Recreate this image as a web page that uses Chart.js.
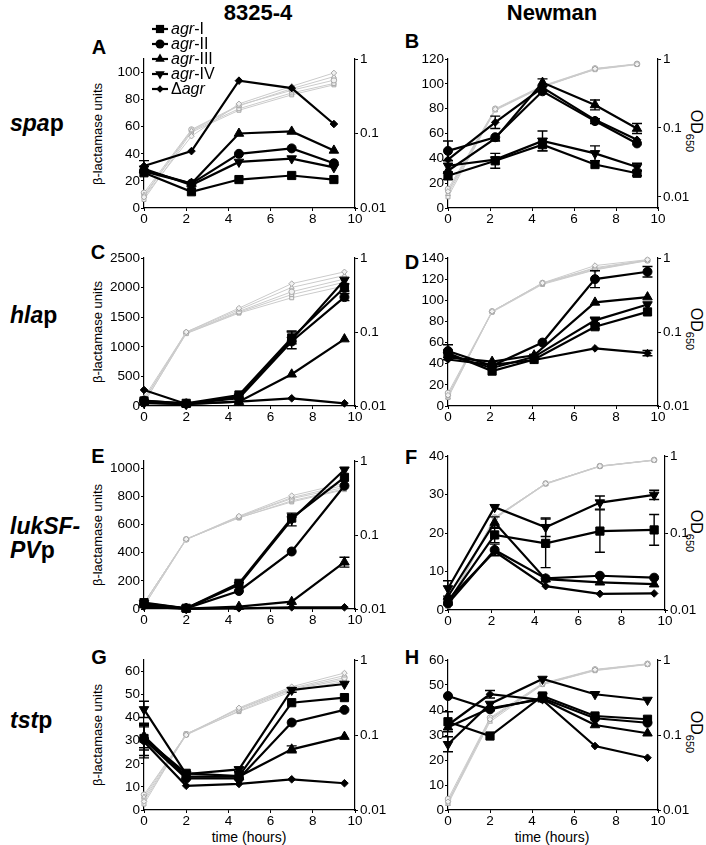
<!DOCTYPE html>
<html>
<head>
<meta charset="utf-8">
<script src="https://cdn.jsdelivr.net/npm/chart.js@4.4.1/dist/chart.umd.min.js"></script>
<style>
body{margin:0;background:#fff;width:706px;height:845px;position:relative;overflow:hidden;font-family:"Liberation Sans",Arial,sans-serif;color:#000}
canvas{position:absolute}
.t{position:absolute;white-space:nowrap;line-height:1}
.col{font-weight:bold;font-size:22px;transform:translate(-50%,-50%)}
.let{font-weight:bold;font-size:20px;transform:translate(-50%,-50%)}
.row{font-weight:bold;font-size:23px;line-height:24px;left:10px;transform:translateY(-50%)}
.yt{font-size:13px;transform:translate(-50%,-50%) rotate(-90deg)}
.od{font-size:16px;transform:translate(-50%,-50%) rotate(90deg)}
.od sub{font-size:11px}
.xt{font-size:14px;transform:translate(-50%,-50%)}
</style>
</head>
<body>
<div class="t col" style="left:258px;top:13px">8325-4</div>
<div class="t col" style="left:552px;top:13px">Newman</div>

<div class="t row" style="top:123px"><i>spa</i>p</div>
<div class="t row" style="top:315px"><i>hla</i>p</div>
<div class="t row" style="top:538px"><i>lukSF-<br>PV</i>p</div>
<div class="t row" style="top:720px"><i>tst</i>p</div>

<div class="t let" style="left:99px;top:47px">A</div>
<div class="t let" style="left:412px;top:41px">B</div>
<div class="t let" style="left:98px;top:252px">C</div>
<div class="t let" style="left:412px;top:262px">D</div>
<div class="t let" style="left:98px;top:456px">E</div>
<div class="t let" style="left:411px;top:457px">F</div>
<div class="t let" style="left:99px;top:657px">G</div>
<div class="t let" style="left:412px;top:657px">H</div>

<div class="t yt" style="left:97px;top:134px">β-lactamase units</div>
<div class="t yt" style="left:97px;top:332px">β-lactamase units</div>
<div class="t yt" style="left:97px;top:535px">β-lactamase units</div>
<div class="t yt" style="left:97px;top:735px">β-lactamase units</div>

<div class="t od" style="left:694px;top:131px">OD<sub>650</sub></div>
<div class="t od" style="left:694px;top:329px">OD<sub>650</sub></div>
<div class="t od" style="left:694px;top:531px">OD<sub>650</sub></div>
<div class="t od" style="left:694px;top:732px">OD<sub>650</sub></div>

<div class="t xt" style="left:249px;top:837px">time (hours)</div>
<div class="t xt" style="left:552px;top:837px">time (hours)</div>

<script>
Chart.defaults.font.family = '"Liberation Sans", Arial, sans-serif';
Chart.defaults.color = '#000';

const names = ['agr-I', 'agr-II', 'agr-III', 'agr-IV', 'Δagr'];
const marks = ['rect', 'circle', 'triangle', 'triangle', 'rectRot'];
const rots = [0, 0, 0, 180, 0];
const radii = [5.8, 4.5, 5.5, 5.5, 3.8];
const odMarks = ['rectRot', 'triangle', 'circle', 'rect', 'rect'];

// spa promoter, 8325-4
const tA = [0, 2.25, 4.5, 7, 9];
const bA = [
  [26, 12, 21, 24, 21],
  [27, 18, 40, 44, 33],
  [28, 18, 55, 56.5, 42.5],
  [29, 17, 34, 36.5, 30],
  [31, 42, 94, 88.5, 62]
];
const eA = [[0,0,0,0,0],[0,0,0,0,0],[0,0,0,0,0],[0,0,0,0,0],[4,0,0,0,0]];
const odA = [
  [0.014, 0.092, 0.25, 0.43, 0.65],
  [0.015, 0.11, 0.235, 0.40, 0.58],
  [0.016, 0.113, 0.24, 0.38, 0.52],
  [0.0145, 0.108, 0.215, 0.35, 0.47],
  [0.013, 0.104, 0.205, 0.33, 0.45]
];

// spa promoter, Newman
const tB = [0, 2.25, 4.5, 7, 9];
const bB = [
  [26, 38, 51, 35, 28],
  [46, 57, 94, 70, 52],
  [30, 56, 101, 83, 64],
  [34, 39, 54, 44, 33],
  [39, 69, 97, 71, 55]
];
const eB = [[3,6,5,0,2],[8,0,0,2,0],[0,0,3,4,4],[0,0,8,6,3],[0,5,0,0,0]];
const odB = [
  [0.012, 0.187, 0.40, 0.72, 0.84],
  [0.011, 0.18, 0.39, 0.71, 0.84],
  [0.013, 0.19, 0.41, 0.73, 0.85],
  [0.012, 0.185, 0.40, 0.70, 0.83],
  [0.010, 0.183, 0.395, 0.72, 0.84]
];

// hla promoter, 8325-4
const tC = [0, 2, 4.5, 7, 9.5];
const bC = [
  [85, 45, 186, 1150, 2003],
  [90, 40, 130, 1090, 1840],
  [60, 30, 73, 536, 1130],
  [50, 30, 158, 1117, 2130],
  [271, 34, 73, 130, 45]
];
const eC = [[0,0,0,100,60],[0,0,0,0,60],[0,0,0,0,0],[0,0,0,150,0],[0,0,0,0,0]];
const odC = [
  [0.012, 0.10, 0.21, 0.45, 0.65],
  [0.013, 0.10, 0.20, 0.40, 0.58],
  [0.012, 0.098, 0.19, 0.35, 0.52],
  [0.011, 0.096, 0.185, 0.32, 0.47],
  [0.011, 0.095, 0.18, 0.29, 0.42]
];

// hla promoter, Newman (agr-II sampled later at the middle point)
const tD = [
  [0, 2.1, 4.1, 7, 9.5],
  [0, 2.1, 4.5, 7, 9.5],
  [0, 2.1, 4.1, 7, 9.5],
  [0, 2.1, 4.1, 7, 9.5],
  [0, 2.1, 4.1, 7, 9.5]
];
const bD = [
  [50, 33, 44, 75, 89],
  [52, 38, 60, 120, 127],
  [46, 42, 48, 98, 103],
  [48, 36, 46.5, 81, 96],
  [44, 39, 43.5, 54.5, 50]
];
const eD = [[0,0,0,2,0],[6,0,0,8,5],[0,0,0,0,0],[0,0,0,3,0],[0,0,0,0,2.5]];
const odD = [
  [0.014, 0.19, 0.46, 0.79, 0.95],
  [0.013, 0.19, 0.45, 0.74, 0.94],
  [0.015, 0.19, 0.46, 0.72, 0.93],
  [0.014, 0.185, 0.44, 0.69, 0.92],
  [0.013, 0.19, 0.45, 0.70, 0.93]
];

// lukSF-PV promoter, 8325-4
const tE = [0, 2, 4.5, 7, 9.5];
const bE = [
  [45, 5, 182, 645, 934],
  [33, 5, 128, 408, 874],
  [28, 3, 17, 52, 332],
  [40, 5, 171, 635, 988],
  [17, 1, 5, 12, 12]
];
const eE = [[0,0,0,0,0],[0,0,0,0,0],[0,0,0,0,35],[0,0,0,45,0],[0,0,0,0,0]];
const odE = [
  [0.012, 0.088, 0.18, 0.34, 0.50],
  [0.012, 0.088, 0.177, 0.32, 0.47],
  [0.011, 0.087, 0.175, 0.31, 0.44],
  [0.012, 0.088, 0.17, 0.29, 0.42],
  [0.011, 0.087, 0.172, 0.28, 0.41]
];

// lukSF-PV promoter, Newman
const tF = [0, 2.15, 4.5, 7, 9.5];
const bF = [
  [2.2, 19.5, 17.3, 20.5, 20.8],
  [1.7, 15.6, 8.2, 8.9, 8.4],
  [3.5, 22.7, 8, 7.2, 6.7],
  [5.6, 26.7, 21.5, 27.9, 29.9],
  [2.6, 15.2, 6.2, 4.2, 4.3]
];
const eF = [[0,2,6.3,5.5,4],[0,1.5,0,0,0],[0,1.5,0,0,0],[2,0,2.4,1.7,1.2],[0,0,0,0,0]];
const odF = [
  [0.0117, 0.157, 0.44, 0.74, 0.885],
  [0.011, 0.155, 0.43, 0.73, 0.88],
  [0.012, 0.16, 0.44, 0.74, 0.89],
  [0.0115, 0.152, 0.435, 0.735, 0.88],
  [0.0118, 0.158, 0.44, 0.74, 0.885]
];

// tst promoter, 8325-4
const tG = [0, 2, 4.5, 7, 9.5];
const bG = [
  [31, 15.9, 14.7, 46.5, 48.7],
  [30.6, 13.7, 13.7, 37.9, 43.4],
  [32, 14.5, 14.5, 26.3, 31.8],
  [43.6, 15.6, 17.6, 52, 54.6],
  [29.6, 10.5, 11.3, 13.3, 11.6]
];
const eG = [[5,0,0,0,0],[7,0,0,0,0],[5,0,0,1.5,0],[3.5,0,1,1,0],[7,0,0,0,0]];
const odG = [
  [0.013, 0.10, 0.23, 0.44, 0.67],
  [0.015, 0.103, 0.225, 0.42, 0.62],
  [0.016, 0.102, 0.22, 0.41, 0.58],
  [0.014, 0.10, 0.21, 0.40, 0.55],
  [0.012, 0.104, 0.205, 0.38, 0.52]
];

// tst promoter, Newman
const tH = [0, 2, 4.5, 7, 9.5];
const bH = [
  [35.3, 29.6, 45.6, 37.6, 36.3],
  [45.6, 40.3, 44.7, 36.7, 34.9],
  [33.1, 40.7, 44.3, 34, 30.7],
  [26.3, 42.4, 52.4, 46.3, 44],
  [34, 46.3, 44, 25.6, 20.9]
];
const eH = [[4,0,1,0,0],[0,0,0,0,0],[0,0,0,0,0],[3,0,0,0,0],[0,1.5,0,0,0]];
const odH = [
  [0.0129, 0.162, 0.48, 0.74, 0.88],
  [0.012, 0.15, 0.47, 0.73, 0.88],
  [0.014, 0.17, 0.49, 0.75, 0.89],
  [0.013, 0.165, 0.47, 0.72, 0.87],
  [0.0125, 0.158, 0.48, 0.74, 0.88]
];

const errBars = {
  id: 'errBars',
  afterDatasetsDraw(chart) {
    const ctx = chart.ctx;
    ctx.save();
    ctx.strokeStyle = '#000';
    ctx.lineWidth = 1.4;
    chart.data.datasets.forEach((d, i) => {
      if (!d.errs) return;
      const meta = chart.getDatasetMeta(i);
      const ys = chart.scales[d.yAxisID];
      d.errs.forEach((e, j) => {
        if (!e) return;
        const x = meta.data[j].x;
        const v = d.data[j].y;
        const y1 = ys.getPixelForValue(v + e), y2 = ys.getPixelForValue(Math.max(v - e, 0));
        ctx.beginPath();
        ctx.moveTo(x, y1); ctx.lineTo(x, y2);
        ctx.moveTo(x - 5, y1); ctx.lineTo(x + 5, y1);
        ctx.moveTo(x - 5, y2); ctx.lineTo(x + 5, y2);
        ctx.stroke();
      });
    });
    ctx.restore();
  }
};

function mark(ctx, style, rot, r, x, y) {
  ctx.beginPath();
  if (style === 'rect') {
    const s = r * Math.SQRT1_2;
    ctx.rect(x - s, y - s, 2 * s, 2 * s);
  } else if (style === 'circle') {
    ctx.arc(x, y, r, 0, Math.PI * 2);
  } else if (style === 'triangle') {
    let a = rot * Math.PI / 180;
    for (let k = 0; k < 3; k++) {
      const px = x + Math.sin(a) * r, py = y - Math.cos(a) * r;
      if (k === 0) ctx.moveTo(px, py); else ctx.lineTo(px, py);
      a += Math.PI * 2 / 3;
    }
    ctx.closePath();
  } else {
    ctx.moveTo(x - r, y); ctx.lineTo(x, y - r); ctx.lineTo(x + r, y); ctx.lineTo(x, y + r);
    ctx.closePath();
  }
  ctx.fill();
}

function legendPlugin(ox, oy) {
  const rows = [['', 'agr', '-I'], ['', 'agr', '-II'], ['', 'agr', '-III'], ['', 'agr', '-IV'], ['Δ', 'agr', '']];
  const ys = [29, 44, 59, 74, 89];
  return {
    id: 'legendA',
    afterDraw(chart) {
      const ctx = chart.ctx;
      ctx.save();
      ctx.fillStyle = '#000';
      ctx.strokeStyle = '#000';
      ctx.lineWidth = 2.2;
      ctx.textBaseline = 'middle';
      rows.forEach((r, i) => {
        const y = ys[i] - oy;
        ctx.beginPath();
        ctx.moveTo(152 - ox, y); ctx.lineTo(168 - ox, y);
        ctx.stroke();
        mark(ctx, marks[i], rots[i], radii[i], 160 - ox, y);
        let x = 171 - ox;
        ctx.font = '16px "Liberation Sans", Arial, sans-serif';
        ctx.fillText(r[0], x, y + 1); x += ctx.measureText(r[0]).width;
        ctx.font = 'italic 16px "Liberation Sans", Arial, sans-serif';
        ctx.fillText(r[1], x, y + 1); x += ctx.measureText(r[1]).width;
        ctx.font = '16px "Liberation Sans", Arial, sans-serif';
        ctx.fillText(r[2], x, y + 1);
      });
      ctx.restore();
    }
  };
}

function panel(p) {
  const xH = 18;
  const cv = document.createElement('canvas');
  const W = p.cr - p.cl, padTop = p.top - p.ct, H = padTop + (p.bottom - p.top) + xH;
  cv.width = W; cv.height = H;
  cv.style.left = p.cl + 'px'; cv.style.top = p.ct + 'px';
  document.body.appendChild(cv);
  const per = Array.isArray(p.t[0]);
  const ds = [];
  p.units.forEach((vals, i) => {
    const tt = per ? p.t[i] : p.t;
    ds.push({
      label: names[i],
      data: vals.map((v, j) => ({ x: tt[j], y: v })),
      errs: p.err[i],
      yAxisID: 'y',
      borderColor: '#000', backgroundColor: '#000',
      borderWidth: 2.2,
      pointStyle: marks[i], pointRotation: rots[i], pointRadius: radii[i],
      pointBorderWidth: 1, pointBorderColor: '#000', pointBackgroundColor: '#000',
      clip: false, order: 0
    });
  });
  const tOd = per ? p.t[1] : p.t;
  p.od.forEach((vals, i) => {
    ds.push({
      label: 'OD ' + names[i],
      data: vals.map((v, j) => ({ x: tOd[j], y: v })),
      yAxisID: 'y2',
      borderColor: '#cbcbcb', borderWidth: 1,
      pointStyle: odMarks[i], pointRadius: 2.8, pointBorderWidth: 1,
      pointBorderColor: '#a8a8a8', pointBackgroundColor: '#f2f2f2',
      clip: false, order: 1
    });
  });
  const tickFont = { size: 13.5 };
  const axis = { drawOnChartArea: false, drawTicks: true, tickLength: 3, color: '#000', lineWidth: 1 };
  const border = { color: '#000', width: 1.2 };
  new Chart(cv, {
    type: 'line',
    data: { datasets: ds },
    options: {
      responsive: false,
      animation: false,
      layout: { padding: { top: padTop, left: 0, right: 0, bottom: 0 } },
      plugins: { legend: { display: false }, tooltip: { enabled: false } },
      scales: {
        x: {
          type: 'linear', min: 0, max: 10,
          ticks: { stepSize: 2, font: tickFont, padding: 0, maxRotation: 0, callback: v => String(v) },
          grid: axis, border: border,
          afterFit: s => { s.height = xH; }
        },
        y: {
          position: 'left', min: 0, max: p.ymax,
          ticks: { stepSize: p.ystep, includeBounds: false, font: tickFont, padding: 1, callback: v => String(v) },
          grid: axis, border: border,
          afterFit: s => { s.width = p.pl - p.cl; }
        },
        y2: {
          type: 'logarithmic', position: 'right', min: p.logMin || 0.01, max: 1,
          afterBuildTicks: s => { s.ticks = [0.01, 0.1, 1].filter(v => v >= s.min).map(v => ({ value: v })); },
          ticks: { font: tickFont, padding: 2, callback: v => String(v) },
          grid: axis, border: border,
          afterFit: s => { s.width = p.cr - p.pr; }
        }
      }
    },
    plugins: [errBars].concat(p.legend ? [legendPlugin(p.cl, p.ct)] : [])
  });
}

const L = { cl: 96, pl: 144, pr: 355, cr: 400 };
const R = { cl: 404, pl: 448, pr: 658, cr: 706 };

panel(Object.assign({}, L, { ct: 10, top: 59, bottom: 208, t: tA, units: bA, err: eA, od: odA, ymax: 110, ystep: 20, legend: true }));
panel(Object.assign({}, R, { ct: 45, top: 59, bottom: 208, t: tB, units: bB, err: eB, od: odB, ymax: 120, ystep: 20, logMin: 0.0069 }));
panel(Object.assign({}, L, { ct: 244, top: 258, bottom: 406, t: tC, units: bC, err: eC, od: odC, ymax: 2500, ystep: 500 }));
panel(Object.assign({}, R, { ct: 244, top: 258, bottom: 406, t: tD, units: bD, err: eD, od: odD, ymax: 140, ystep: 20 }));
panel(Object.assign({}, L, { ct: 447, top: 461, bottom: 609, t: tE, units: bE, err: eE, od: odE, ymax: 1050, ystep: 200 }));
panel(Object.assign({}, R, { pr: 665, ct: 442, top: 456, bottom: 610, t: tF, units: bF, err: eF, od: odF, ymax: 40, ystep: 10 }));
panel(Object.assign({}, L, { ct: 646, top: 660, bottom: 810, t: tG, units: bG, err: eG, od: odG, ymax: 65, ystep: 10 }));
panel(Object.assign({}, R, { ct: 646, top: 660, bottom: 810, t: tH, units: bH, err: eH, od: odH, ymax: 60, ystep: 10 }));
</script>
</body>
</html>
